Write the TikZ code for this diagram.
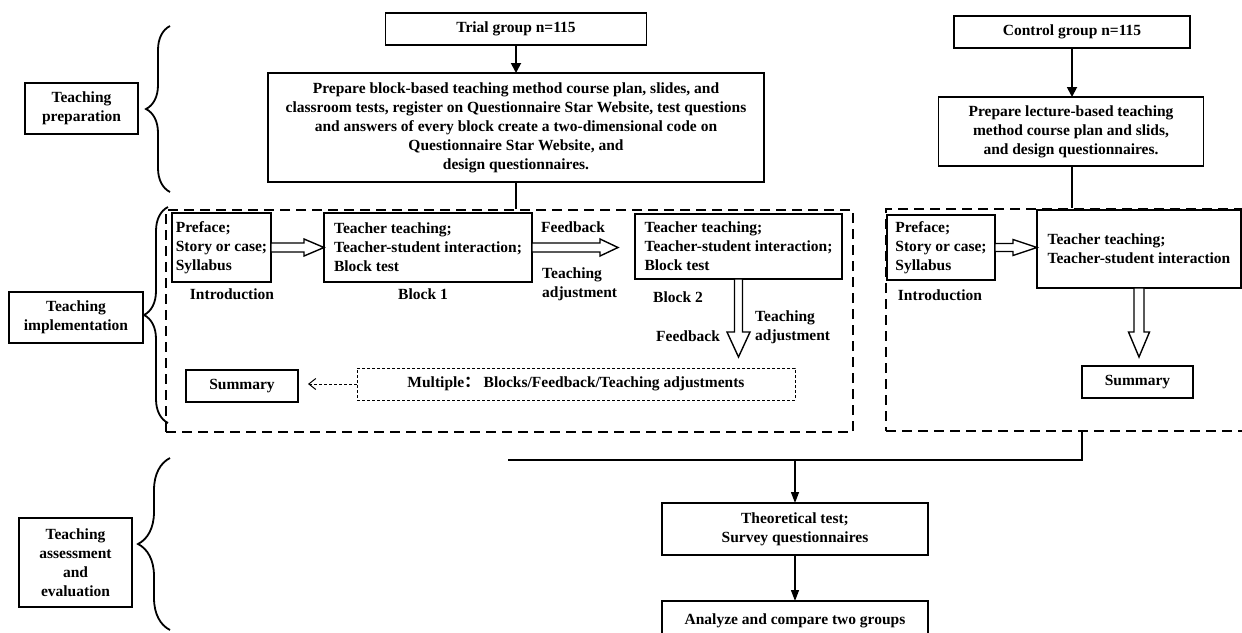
\documentclass[tikz,border=0pt]{standalone}
\usepackage{fontspec}
\setmainfont{Liberation Serif}
\newfontfamily\cjk{Noto Sans CJK SC}
\usepackage{tikz}
\usetikzlibrary{arrows.meta,positioning,calc,decorations.pathreplacing}

\begin{document}
\begin{tikzpicture}[x=1pt, y=-1pt,
          box/.style={rectangle, draw, line width=1.6pt, outer sep=0pt, inner sep=2pt, font=\fontsize{15.5}{19}\selectfont\bfseries, align=center},
          lbox/.style={box, align=left},
          tag/.style={font=\fontsize{15.5}{19}\selectfont\bfseries, align=left, inner sep=0pt},
          dashframe/.style={rectangle, draw, line width=2.5pt, dash pattern=on 10pt off 6pt},
          flow/.style={-{Triangle[width=10pt,length=10pt]}, line width=1.8pt},
          thinflow/.style={-{Triangle[width=8pt,length=11pt]}, line width=1.3pt},
          link/.style={line width=1.8pt},
          fat/.style={draw, line width=1.4pt, line join=miter, fill=white},
          curly/.style={decorate, decoration={brace, amplitude=24pt}, line width=1.8pt}
        ]
          \useasboundingbox (0,0) rectangle (1242,632);
          \clip (0,0) rectangle (1242,632);

          \node[box, minimum width=261pt, minimum height=32pt] (trial) at (516,29) {Trial group n=115};
          \node[box, minimum width=496pt, minimum height=109pt] (prep) at (516,127.5) {Prepare block-based teaching method course plan, slides, and\\classroom tests, register on Questionnaire Star Website, test questions\\and answers of every block create a two-dimensional code on\\Questionnaire Star Website, and\\design questionnaires.};
          \node[box, minimum width=236pt, minimum height=32pt] (ctrl) at (1072,32) {Control group n=115};
          \node[box, minimum width=265pt, minimum height=69pt] (ctrlprep) at (1071,131.5) {Prepare lecture-based teaching\\method course plan and slids,\\and design questionnaires.};

          \node[dashframe, minimum width=687pt, minimum height=222pt] (trialfr) at (509.5,321) {};
          \node[dashframe, minimum width=380pt, minimum height=222pt] (ctrlfr) at (1076,320) {};

          \node[lbox, minimum width=99pt, minimum height=69pt] (intro) at (221.5,247.5) {Preface;\\Story or case;\\Syllabus};
          \node[lbox, minimum width=208pt, minimum height=69pt] (blockA) at (428,247.5) {Teacher teaching;\\Teacher-student interaction;\\Block test};
          \node[lbox, minimum width=207pt, minimum height=65pt] (blockB) at (738.5,246.5) {Teacher teaching;\\Teacher-student interaction;\\Block test};
          \node[box, minimum width=112pt, minimum height=32pt] (sumA) at (242,386) {Summary};
          \node[box, line width=1pt, dash pattern=on 3pt off 2pt, minimum width=438pt, minimum height=32pt] (multi) at (576,384) {Multiple{\cjk ：}\ Blocks/Feedback/Teaching adjustments};

          \node[tag] (introtxt) at (232,294) {Introduction};
          \node[tag] (blkAtxt) at (423,294) {Block 1};
          \node[tag] (fbA) at (573,227) {Feedback};
          \node[tag, anchor=west] (adjA) at (542,284.5) {Teaching\\adjustment};
          \node[tag] (blkBtxt) at (678,297) {Block 2};
          \node[tag] (fbB) at (688,336) {Feedback};
          \node[tag, anchor=west] (adjB) at (755,327.5) {Teaching\\adjustment};

          \node[lbox, minimum width=108pt, minimum height=65pt] (introB) at (941,247.5) {Preface;\\Story or case;\\Syllabus};
          \node[lbox, minimum width=204pt, minimum height=78pt] (teachB) at (1139,249) {Teacher teaching;\\Teacher-student interaction};
          \node[box, minimum width=111pt, minimum height=32pt] (sumB) at (1137.5,382) {Summary};
          \node[tag] (introBtxt) at (940,295) {Introduction};

          \node[box, line width=1.4pt, minimum width=266pt, minimum height=52pt] (theo) at (795,529) {Theoretical test;\\Survey questionnaires};
          \node[box, line width=1.4pt, minimum width=266pt, minimum height=40pt] (comp) at (795,621) {Analyze and compare two groups};

          \node[box, minimum width=113pt, minimum height=51pt] (prepTag) at (81.5,108.5) {Teaching\\preparation};
          \node[box, minimum width=134pt, minimum height=51pt] (implTag) at (76,317.5) {Teaching\\implementation};
          \node[box, line width=1.4pt, minimum width=113pt, minimum height=89pt] (evalTag) at (75.5,562.5) {Teaching\\assessment\\and\\evaluation};

          \draw[curly] (170,192) -- (170,26);
          \draw[curly] (168,423) -- (168,207);
          \draw[curly, decoration={amplitude=32pt}] (170,630) -- (170,458);

          \draw[flow] (trial) -- (prep);
          \draw[link] (prep) -- (prep |- trialfr.north);
          \draw[flow] (ctrl.south) -- (ctrl.south |- ctrlprep.north);
          \draw[link] (ctrl.south |- ctrlprep.south) -- (ctrl.south |- ctrlfr.north);

          \coordinate (fbtip) at (618,247.5);
          \coordinate (adjtip) at (738.5,357);
          \coordinate (ctip) at (1139,357);
          \draw[fat] (intro.east) ++(0,-4.5) -- ++(33,0) -- ++(0,-4) -- (blockA.west) -- ++(-20,8.5) -- ++(0,-4) -- ++(-33,0) -- cycle;
          \draw[fat] (blockA.east) ++(0,-4.5) -- ++(68,0) -- ++(0,-4) -- (fbtip) -- ++(-18,8.5) -- ++(0,-4) -- ++(-68,0) -- cycle;
          \draw[fat] (blockB.south) ++(-4,0) -- ++(0,53) -- ++(-7.5,0) -- (adjtip) -- ++(11.5,-25) -- ++(-7.5,0) -- ++(0,-53) -- cycle;
          \draw[fat] (introB.east) ++(0,-4) -- ++(18,0) -- ++(0,-4) -- (introB.east -| teachB.west) -- ++(-24,8) -- ++(0,-4) -- ++(-18,0) -- cycle;
          \draw[fat] (teachB.south) ++(-5,0) -- ++(0,44) -- ++(-5.5,0) -- (ctip) -- ++(10.5,-25) -- ++(-5.5,0) -- ++(0,-44) -- cycle;
          \draw[-{Straight Barb[length=7pt,width=11pt]}, line width=1pt, dash pattern=on 3pt off 2pt, shorten >=10pt] (multi.west) -- (multi.west -| sumA.east);

          \coordinate (mergeR) at (1082,460);
          \coordinate (mergeL) at (508,460);
          \draw[link] (ctrlfr.south -| mergeR) -- (mergeR) -- (mergeL);
          \draw[thinflow] (theo.north |- mergeR) -- (theo.north);
          \draw[thinflow] (theo) -- (comp);
        \end{tikzpicture}
\end{document}
